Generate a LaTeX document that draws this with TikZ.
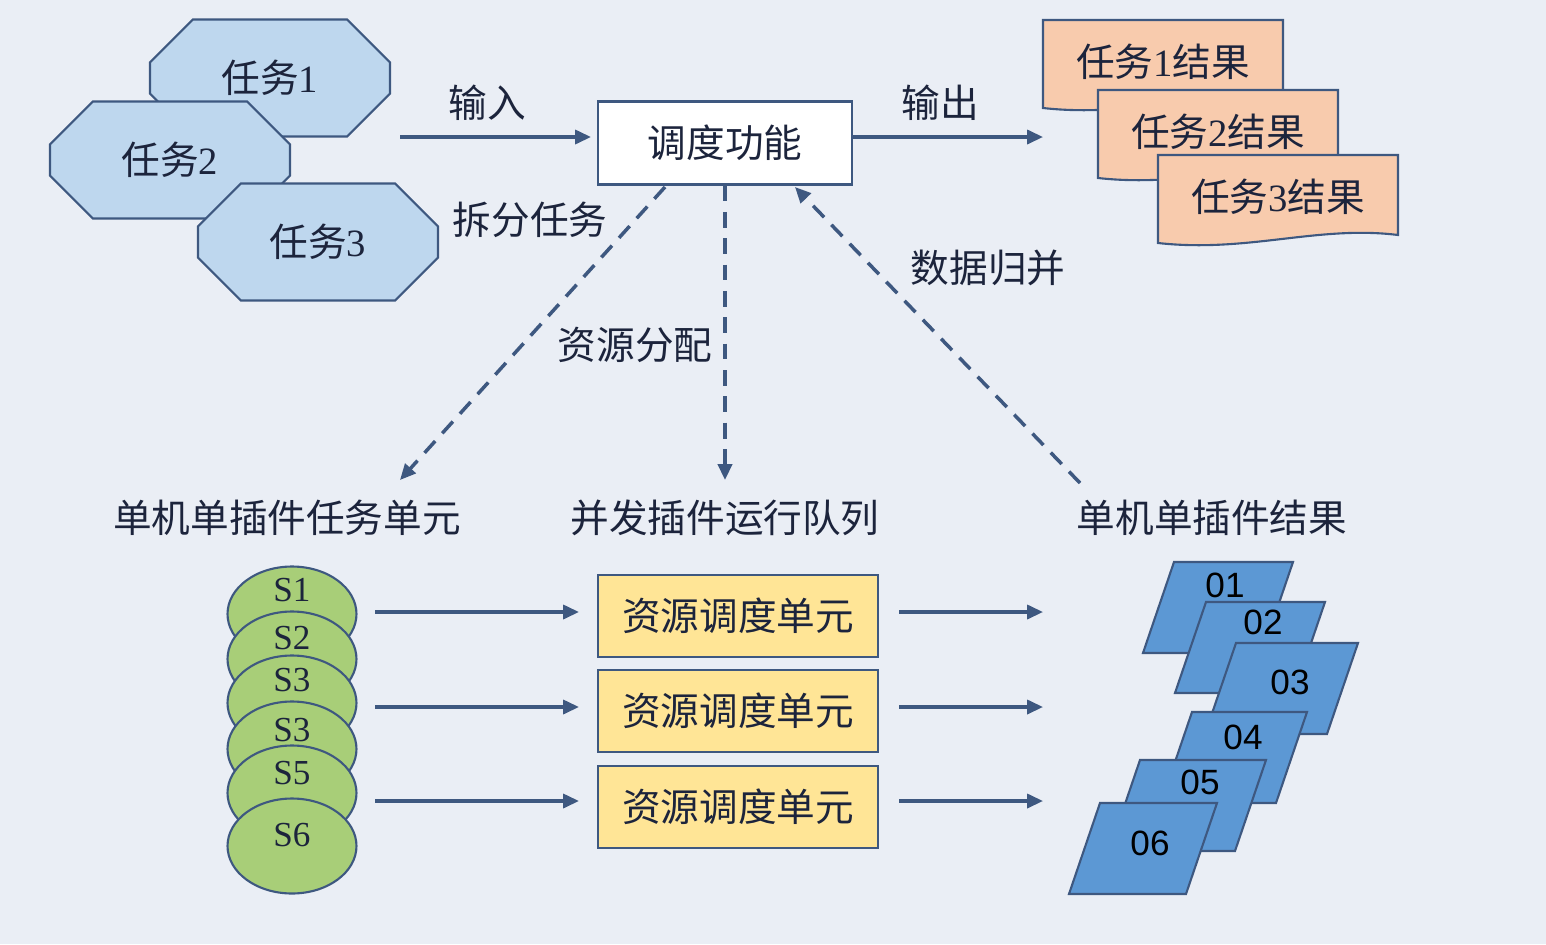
\documentclass[tikz,border=0pt]{standalone}
\usepackage{fontspec}
\setmainfont{Liberation Serif}
\newfontfamily\cjk{Noto Sans CJK SC}
\newfontfamily\digsans{Liberation Sans}
\usetikzlibrary{shapes.geometric, shapes.misc, positioning, arrows.meta}
\definecolor{bg_gray}{RGB}{234,238,245}
\definecolor{line_blue}{RGB}{62,88,128}
\definecolor{oct_blue}{RGB}{190,215,238}
\definecolor{doc_peach}{RGB}{248,203,173}
\definecolor{cell_yellow}{RGB}{255,229,150}
\definecolor{sub_green}{RGB}{168,206,120}
\definecolor{res_blue}{RGB}{92,152,212}
\definecolor{txt_dark}{RGB}{28,36,60}

\tikzset{
  lbl/.style={font=\cjk\fontsize{22}{26}\selectfont, text=txt_dark},
  task/.style={chamfered rectangle, chamfered rectangle xsep=0.5cm, chamfered rectangle ysep=0.5cm,
    minimum width=4.8cm, minimum height=2.34cm, inner sep=0pt, draw=line_blue, line width=1.2pt,
    fill=oct_blue, font=\fontsize{22}{26}\selectfont, text=txt_dark},
  cell/.style={rectangle, draw=line_blue, line width=1.2pt, fill=cell_yellow, minimum width=5.6cm,
    minimum height=1.64cm, inner sep=0pt, font=\cjk\fontsize{22}{26}\selectfont, text=txt_dark},
  sub/.style={ellipse, draw=line_blue, line width=1.2pt, fill=sub_green, minimum width=2.58cm,
    minimum height=1.9cm, inner sep=0pt},
  flow/.style={-{Triangle[length=9pt,width=8pt]}, line_blue, line width=1.8pt},
  dflow/.style={flow, dashed, dash pattern=on 9pt off 6pt, line width=2pt},
  doc/.style={draw=line_blue, line width=1.2pt, fill=doc_peach},
  para/.style={draw=line_blue, line width=1.2pt, fill=res_blue},
}

\begin{document}
\begin{tikzpicture}[x=0.02cm, y=-0.02cm]
    \fill[bg_gray] (0,0) rectangle (1546,944);

    % input tasks
    \node[task] (t1) at (270,78) {\cjk 任务\rmfamily 1};
    \node[task] (t2) at (170,160) {\cjk 任务\rmfamily 2};
    \node[task] (t3) at (318,242) {\cjk 任务\rmfamily 3};

    % scheduler
    \node[rectangle, draw=line_blue, line width=1.2pt, fill=white, minimum width=5.08cm,
      minimum height=1.66cm, lbl] (sched) at (725,143) {调度功能};
    \coordinate (inA) at (400,137);
    \coordinate (outB) at (1043,137);
    \draw[flow] (inA) -- ([xshift=-0.12cm]sched.west |- inA);
    \draw[flow] (sched.east |- outB) -- (outB);
    \node[lbl] (inL) at (487,103) {输入};
    \node[lbl] (outL) at (940,103) {输出};

    % result documents
    \foreach \x/\y/\n in {1043/20/1, 1098/90/2, 1158/155/3}{
      \draw[doc] (\x,\y+88) -- (\x,\y) -- (\x+240,\y) -- (\x+240,\y+80)
        .. controls (\x+160,\y+70) and (\x+90,\y+98) .. (\x,\y+88) -- cycle;
      \node[lbl] (r\n) at (\x+120,\y+42) {任务{\rmfamily\n}结果};
    }

    % dashed links
    \coordinate (dA) at (400,480);
    \coordinate (dB) at (725,480);
    \coordinate (dC) at (1080,483);
    \draw[dflow] (665,187) -- (dA);
    \draw[dflow] (sched.south) -- (dB);
    \draw[dflow] (dC) -- (795,187);
    \node[lbl] (split) at (530,220) {拆分任务};
    \node[lbl] (alloc) at (635,345) {资源分配};
    \node[lbl] (merge) at (988,268) {数据归并};

    % headers
    \node[lbl] (h1) at (287,518) {单机单插件任务单元};
    \node[lbl] (h2) at (725,518) {并发插件运行队列};
    \node[lbl] (h3) at (1212,518) {单机单插件结果};

    % sub-tasks
    \foreach \y/\n [count=\i] in {614/1, 659/2, 703/3, 749/3, 793/5, 846/6}{
      \node[sub] (s\i) at (292,\y) {};
    }
    \foreach \y/\n in {590/1, 638/2, 680/3, 730/3, 773/5, 835/6}{
      \node[font=\fontsize{20}{24}\selectfont, text=txt_dark] at (292,\y) {S\n};
    }

    % scheduling units
    \foreach \y [count=\i] in {616, 711, 807}{
      \node[cell] (u\i) at (738,\y) {资源调度单元};
    }
    \foreach \y [count=\i] in {612, 707, 801}{
      \coordinate (la\i) at (375,\y);
      \coordinate (rb\i) at (1043,\y);
      \draw[flow] (la\i) -- ([xshift=-0.36cm]u\i.west |- la\i);
      \draw[flow] (u\i.east |- rb\i) ++(20,0) -- (rb\i);
    }

    % results
    \foreach \x/\y/\w/\n/\lx/\ly in {1174/562/119/01/1225/585, 1206/602/119/02/1263/622,
        1236/643/122/03/1290/682, 1192/712/115/04/1243/737, 1140/760/126/05/1200/782,
        1100/803/117/06/1150/843}{
      \draw[para] (\x,\y) -- (\x+\w,\y) -- (\x+\w-31,\y+91) -- (\x-31,\y+91) -- cycle;
      \node[font=\digsans\fontsize{20}{24}\selectfont, text=black] (p\n) at (\lx,\ly) {\n};
    }
\end{tikzpicture}
\end{document}
